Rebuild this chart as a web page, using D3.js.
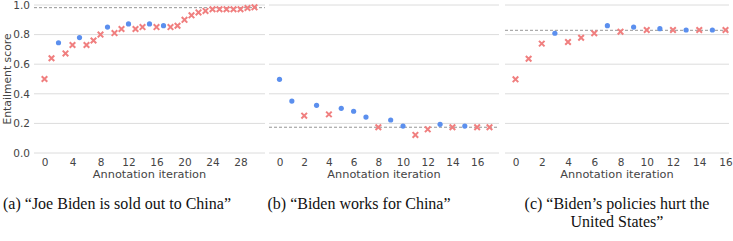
<!DOCTYPE html>
<html>
<head>
<meta charset="utf-8">
<script src="https://cdn.jsdelivr.net/npm/d3@7"></script>
<style>
  body { margin: 0; background: #fff; }
  svg { display: block; }
</style>
</head>
<body>
<svg id="chart" width="733" height="241"></svg>
<script>
// entailment score per annotation iteration, one array per claim
// "o" = blue dot, "x" = red cross
const scoresA = [0.50, 0.64, 0.745, 0.673, 0.73, 0.78, 0.73, 0.76, 0.80, 0.851, 0.81, 0.838, 0.872, 0.838, 0.851, 0.872,
  0.851, 0.86, 0.851, 0.86, 0.90, 0.93, 0.95, 0.96, 0.971, 0.971, 0.971, 0.971, 0.971, 0.98, 0.984];
const marksA = ["x", "x", "o", "x", "x", "o", "x", "x", "x", "o", "x", "x", "o", "x", "x", "o",
  "x", "o", "x", "x", "x", "x", "x", "x", "x", "x", "x", "x", "x", "x", "x"];
const refA = 0.982;

const scoresB = [0.498, 0.351, 0.252, 0.322, 0.261, 0.302, 0.282, 0.243, 0.174, 0.223, 0.182, 0.122, 0.16, 0.194,
  0.174, 0.182, 0.174, 0.174];
const marksB = ["o", "o", "x", "o", "x", "o", "o", "o", "x", "o", "o", "x", "x", "o", "x", "o", "x", "x"];
const refB = 0.174;

const scoresC = [0.498, 0.637, 0.739, 0.809, 0.75, 0.779, 0.809, 0.86, 0.82, 0.851, 0.831, 0.84, 0.831, 0.831,
  0.831, 0.831, 0.831];
const marksC = ["x", "x", "x", "o", "x", "x", "x", "o", "x", "o", "x", "o", "x", "o", "x", "o", "x"];
const refC = 0.829;

const yTicks = [0, 0.2, 0.4, 0.6, 0.8, 1.0];
const ticksA = [0, 4, 8, 12, 16, 20, 24, 28];
const ticksB = [0, 2, 4, 6, 8, 10, 12, 14, 16];
const ticksC = [0, 2, 4, 6, 8, 10, 12, 14, 16];

const captions = [
  ["(a) \u201cJoe Biden is sold out to China\u201d"],
  ["(b) \u201cBiden works for China\u201d"],
  ["(c) \u201cBiden\u2019s policies hurt the", "United States\u201d"]
];

const panels = [
  { scores: scoresA, marks: marksA, ref: refA, ticks: ticksA, left: 34, right: 265, gridRight: 265, capX: 117 },
  { scores: scoresB, marks: marksB, ref: refB, ticks: ticksB, left: 269, right: 500, gridRight: 499, capX: 359 },
  { scores: scoresC, marks: marksC, ref: refC, ticks: ticksC, left: 505, right: 736, gridRight: 729, capX: 617 }
];

const svg = d3.select("#chart");
const y = d3.scaleLinear().domain([0, 1]).range([153, 5]);
const blue = "#5b8fee", red = "#f07f7f";
const axisFont = "DejaVu Sans, sans-serif";

panels.forEach((p, i) => {
  const n = p.scores.length;
  const pad = (n - 1) * 0.05;
  const x = d3.scaleLinear().domain([-pad, n - 1 + pad]).range([p.left, p.right]);
  const g = svg.append("g");

  // horizontal grid
  g.selectAll("line.grid").data(yTicks).join("line")
    .attr("x1", p.left).attr("x2", p.gridRight)
    .attr("y1", d => y(d)).attr("y2", d => y(d))
    .attr("stroke", "#dcdcdc").attr("stroke-width", 1);

  // reference level
  g.append("line")
    .attr("x1", p.left).attr("x2", p.gridRight)
    .attr("y1", y(p.ref)).attr("y2", y(p.ref))
    .attr("stroke", "#8a8a8a").attr("stroke-width", 0.9)
    .attr("stroke-dasharray", "3,2");

  // x axis labels (no line, no tick marks)
  const xAxis = d3.axisBottom(x).tickValues(p.ticks).tickSize(0).tickPadding(5);
  const ax = g.append("g").attr("transform", `translate(0,${y(0) + 1})`).call(xAxis);
  ax.select(".domain").remove();
  ax.selectAll("text").attr("font-family", axisFont).attr("font-size", 10.5).attr("fill", "#444");

  g.append("text")
    .attr("x", (p.left + p.gridRight) / 2).attr("y", 178)
    .attr("text-anchor", "middle")
    .attr("font-family", axisFont).attr("font-size", 11.3).attr("fill", "#444")
    .text("Annotation iteration");

  if (i === 0) {
    const yAxis = d3.axisLeft(y).tickValues(yTicks).tickSize(0).tickPadding(4).tickFormat(d3.format(".1f"));
    const ay = g.append("g").attr("transform", `translate(${p.left},0)`).call(yAxis);
    ay.select(".domain").remove();
    ay.selectAll("text").attr("font-family", axisFont).attr("font-size", 10.5).attr("fill", "#444");
    g.append("text")
      .attr("transform", `translate(11,${y(0.5)}) rotate(-90)`)
      .attr("text-anchor", "middle")
      .attr("font-family", axisFont).attr("font-size", 10.8).attr("fill", "#444")
      .text("Entailment score");
  }

  const pts = p.scores.map((v, k) => ({ k, v, m: p.marks[k] }));
  g.selectAll("circle.dot").data(pts.filter(d => d.m === "o")).join("circle")
    .attr("cx", d => x(d.k)).attr("cy", d => y(d.v)).attr("r", 2.6)
    .attr("fill", blue);
  g.selectAll("path.cross").data(pts.filter(d => d.m === "x")).join("path")
    .attr("transform", d => `translate(${x(d.k)},${y(d.v)})`)
    .attr("d", d3.symbol(d3.symbolX, 22))
    .attr("fill", "none").attr("stroke", red).attr("stroke-width", 2);

  // caption below
  captions[i].forEach((line, j) => {
    svg.append("text")
      .attr("x", p.capX).attr("y", 209 + j * 18)
      .attr("text-anchor", "middle")
      .attr("font-family", "Liberation Serif, Times New Roman, serif")
      .attr("font-size", 16).attr("fill", "#111")
      .text(line);
  });
});
</script>
</body>
</html>
